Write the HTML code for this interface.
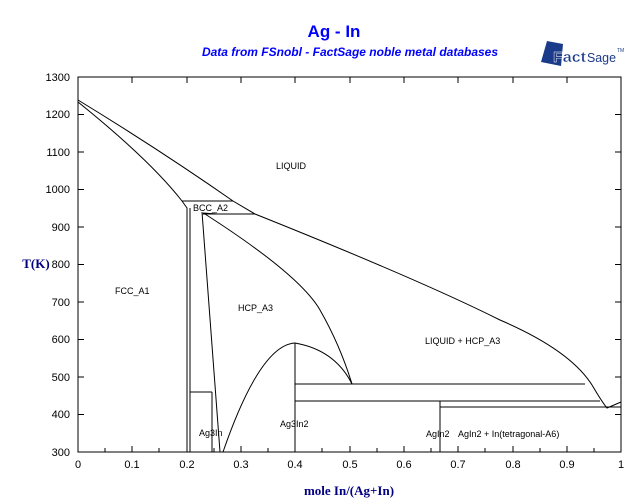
<!DOCTYPE html>
<html><head><style>body{margin:0;background:#fff}svg{display:block}</style></head><body>
<svg width="640" height="504" xmlns="http://www.w3.org/2000/svg" font-family="Liberation Sans, sans-serif">
<rect width="640" height="504" fill="#fff"/>
<text x="334" y="37" text-anchor="middle" font-size="17" font-weight="bold" fill="#0000ff">Ag - In</text>
<text x="350" y="56" text-anchor="middle" font-size="12" font-weight="bold" font-style="italic" fill="#0000ff">Data from FSnobl - FactSage noble metal databases</text>
<g transform="translate(541,41)">
<polygon points="6,0 22,3 20,25 0,21" fill="#1a3a8a"/>
<text x="12" y="21" font-size="15" font-weight="bold" fill="#1a3a8a" stroke="#fff" stroke-width="0.4" textLength="33" lengthAdjust="spacingAndGlyphs">Fact</text>
<text x="46" y="21" font-size="13" fill="#1a3a8a" textLength="29" lengthAdjust="spacingAndGlyphs">Sage</text>
<text x="76" y="11" font-size="5" fill="#1a3a8a">TM</text>
</g>
<g stroke="#000" fill="none" stroke-width="1">
<rect x="78" y="77" width="543" height="375"/>
<path d="M78,452v-6M105,452v-4M132,452v-6M159,452v-4M187,452v-6M214,452v-4M241,452v-6M268,452v-4M295,452v-6M322,452v-4M350,452v-6M377,452v-4M404,452v-6M431,452v-4M458,452v-6M485,452v-4M513,452v-6M540,452v-4M567,452v-6M594,452v-4"/>
<path d="M78,77v6M132,77v6M187,77v6M241,77v6M295,77v6M350,77v6M404,77v6M458,77v6M513,77v6M567,77v6"/>
<path d="M78,414.5h6M78,377h6M78,339.5h6M78,302h6M78,264.5h6M78,227h6M78,189.5h6M78,152h6M78,114.5h6"/>
<path d="M621,414.5h-6M621,377h-6M621,339.5h-6M621,302h-6M621,264.5h-6M621,227h-6M621,189.5h-6M621,152h-6M621,114.5h-6"/>
<path d="M78,100 Q160,150 233,201 L255,214 Q420,280 500,320 Q570,350 592,385 Q602,402 607,408 L621,402"/>
<path d="M78,102 Q150,160 182,201 L187,208 L187,452"/>
<path d="M182,201H233M202,214H255"/>
<path d="M190,208V452M190,392H212M212,392V452"/>
<path d="M202,212 L220,452"/>
<path d="M203,213 L217,214"/>
<path d="M205,214 Q300,275 320,310 Q340,345 352,384"/>
<path d="M223,452 Q260,345 295,343 Q335,350 352,384"/>
<path d="M295,343V452M295,384H585M295,401H600M440,407H621M440,401V452"/>
</g>
<g font-size="9" fill="#000">
<text x="276" y="169">LIQUID</text>
<text x="193" y="211">BCC_A2</text>
<text x="115" y="294">FCC_A1</text>
<text x="238" y="311">HCP_A3</text>
<text x="425" y="344">LIQUID + HCP_A3</text>
<text x="199" y="436">Ag3In</text>
<text x="280" y="427">Ag3In2</text>
<text x="426" y="437">AgIn2</text>
<text x="458" y="437">AgIn2 + In(tetragonal-A6)</text>
</g>
<g font-size="11" text-anchor="end" fill="#000">
<text x="70" y="456">300</text><text x="70" y="418">400</text><text x="70" y="381">500</text><text x="70" y="343">600</text><text x="70" y="306">700</text><text x="70" y="268">800</text><text x="70" y="231">900</text><text x="70" y="193">1000</text><text x="70" y="156">1100</text><text x="70" y="118">1200</text><text x="70" y="81">1300</text>
</g>
<g font-size="11" text-anchor="middle" fill="#000">
<text x="78" y="468">0</text><text x="132" y="468">0.1</text><text x="187" y="468">0.2</text><text x="241" y="468">0.3</text><text x="295" y="468">0.4</text><text x="350" y="468">0.5</text><text x="404" y="468">0.6</text><text x="458" y="468">0.7</text><text x="513" y="468">0.8</text><text x="567" y="468">0.9</text><text x="621" y="468">1</text>
</g>
<text x="349" y="495" text-anchor="middle" font-family="Liberation Serif, serif" font-size="13" font-weight="bold" fill="#000080">mole In/(Ag+In)</text>
<text x="36" y="268" text-anchor="middle" font-family="Liberation Serif, serif" font-size="13" font-weight="bold" fill="#000080">T(K)</text>
</svg>
</body></html>
